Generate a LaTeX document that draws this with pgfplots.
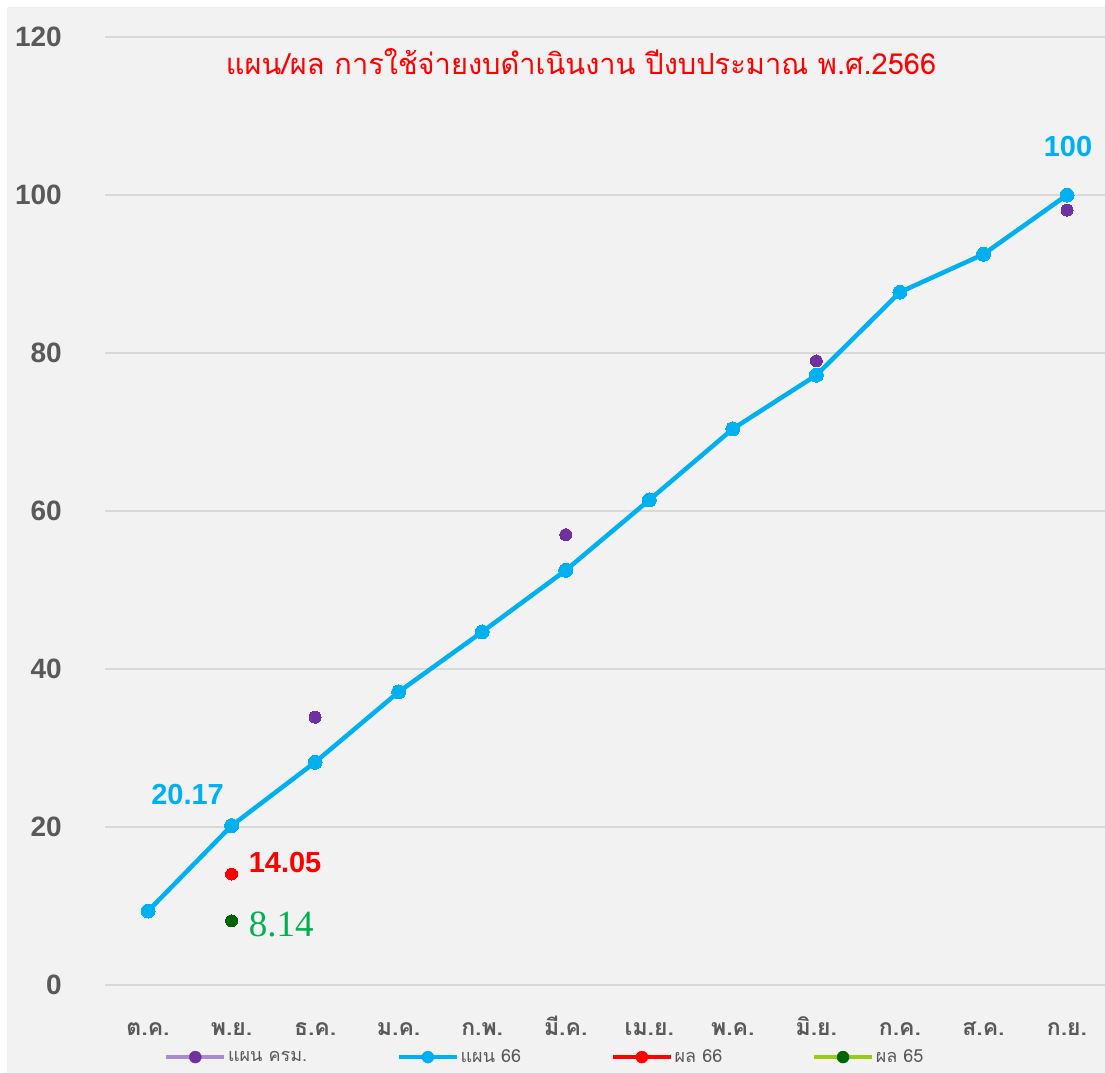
\documentclass[border=0pt]{standalone}
\usepackage{fontspec}
\setmainfont{Liberation Sans}
\newfontfamily\thaifont[Script=Thai]{Loma}
\newfontfamily\serifnum{Liberation Serif}
\usepackage{pgfplots}
\pgfplotsset{compat=1.18}
\definecolor{bg}{HTML}{F2F2F2}
\definecolor{gridc}{HTML}{D9D9D9}
\definecolor{txtgray}{HTML}{595959}
\definecolor{blue66}{HTML}{00B0F0}
\definecolor{purp}{HTML}{7030A0}
\definecolor{lpurple}{HTML}{A98BD0}
\definecolor{redc}{HTML}{FF0000}
\definecolor{dgreen}{HTML}{006400}
\definecolor{lgreen}{HTML}{9BCB1A}
\definecolor{greenlab}{HTML}{00B050}
\begin{document}
\begin{tikzpicture}[x=1bp,y=1bp]
\useasboundingbox (0,0) rectangle (1105,-1073);
\fill[bg] (7,-7) rectangle (1105,-1073);
\node[font=\thaifont\fontsize{29bp}{33bp}\selectfont, text=redc] at (581,-62) {แผน/ผล การใช้จ่ายงบดำเนินงาน ปีงบประมาณ พ.ศ.2566};
\begin{axis}[
  at={(105bp,-985bp)}, anchor=south west,
  scale only axis, width=1000bp, height=948bp,
  xmin=-0.515, xmax=11.455, ymin=0, ymax=120,
  clip=false,
  axis line style={draw=none},
  major tick length=0pt,
  ymajorgrids, grid style={color=gridc, line width=1.2bp},
  xtick={0,...,11},
  xticklabels={ต.ค.,พ.ย.,ธ.ค.,ม.ค.,ก.พ.,มี.ค.,เม.ย.,พ.ค.,มิ.ย.,ก.ค.,ส.ค.,ก.ย.},
  ytick={0,20,...,120},
  /pgf/number format/assume math mode=true,
  xticklabel style={font=\thaifont\bfseries\fontsize{23bp}{26bp}\selectfont, text=txtgray, anchor=base, yshift=-50bp, inner sep=0pt},
  yticklabel style={font=\bfseries\fontsize{28bp}{30bp}\selectfont, text=txtgray, anchor=east, xshift=-43bp, inner sep=0pt},
  legend columns=4,
  legend style={at={(0.44,-0.076)}, anchor=center, draw=none, fill=none,
    font=\thaifont\fontsize{18bp}{20bp}\selectfont, text=txtgray,
    /tikz/every even column/.append style={column sep=88bp}},
]
\addlegendimage{legend image code/.code={\draw[lpurple,line width=3.5bp](0bp,0bp)--(58bp,0bp);\fill[purp](29bp,0bp) circle(6bp);}}
\addlegendentry{แผน ครม.}
\addlegendimage{legend image code/.code={\draw[blue66,line width=3.5bp](0bp,0bp)--(58bp,0bp);\fill[blue66](29bp,0bp) circle(6bp);}}
\addlegendentry{แผน 66}
\addlegendimage{legend image code/.code={\draw[redc,line width=3.5bp](0bp,0bp)--(58bp,0bp);\fill[redc](29bp,0bp) circle(6bp);}}
\addlegendentry{ผล 66}
\addlegendimage{legend image code/.code={\draw[lgreen,line width=3.5bp](0bp,0bp)--(58bp,0bp);\fill[dgreen](29bp,0bp) circle(6bp);}}
\addlegendentry{ผล 65}
\addplot[forget plot, only marks, mark=*, mark size=6bp, mark options={line width=0pt}, color=purp] coordinates {(2,33.9)(5,57.0)(8,79.0)(11,98.1)};
\addplot[forget plot, color=blue66, line width=4.5bp, mark=*, mark size=7bp, mark options={solid, line width=0pt}] coordinates {
(0,9.37)(1,20.17)(2,28.2)(3,37.1)(4,44.7)(5,52.5)(6,61.4)(7,70.4)(8,77.2)(9,87.7)(10,92.5)(11,100)};
\addplot[forget plot, only marks, mark=*, mark size=6bp, mark options={line width=0pt}, color=redc] coordinates {(1,14.05)};
\addplot[forget plot, only marks, mark=*, mark size=6bp, mark options={line width=0pt}, color=dgreen] coordinates {(1,8.14)};
\node[font=\bfseries\fontsize{29bp}{31bp}\selectfont, text=blue66, xshift=-44bp, yshift=31bp] at (axis cs:1,20.17) {20.17};
\node[font=\bfseries\fontsize{29bp}{31bp}\selectfont, text=blue66, xshift=1bp, yshift=48bp] at (axis cs:11,100) {100};
\node[font=\bfseries\fontsize{29bp}{31bp}\selectfont, text=redc, anchor=west, inner sep=0pt, xshift=17bp, yshift=12bp] at (axis cs:1,14.05) {14.05};
\node[font=\serifnum\fontsize{37bp}{39bp}\selectfont, text=greenlab, anchor=west, inner sep=0pt, xshift=17bp, yshift=-4bp] at (axis cs:1,8.14) {8.14};
\end{axis}
\end{tikzpicture}
\end{document}
